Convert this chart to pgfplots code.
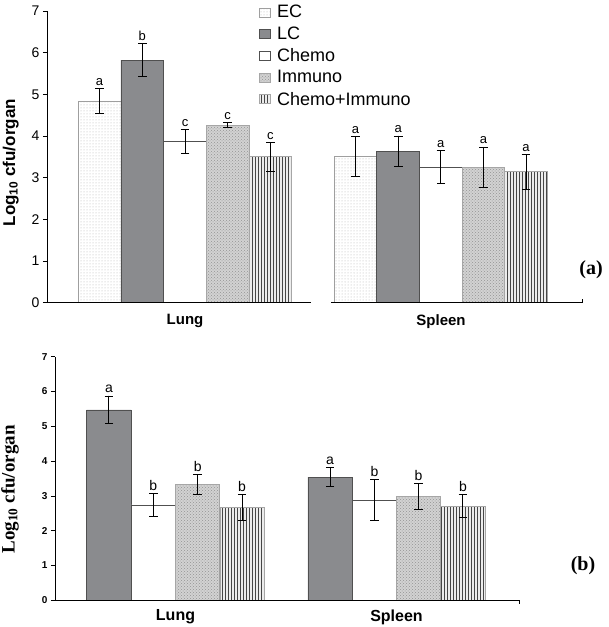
\documentclass[border=0pt]{standalone}
\usepackage{fontspec}
\setmainfont{Liberation Sans}
\newfontfamily\timesf{Liberation Serif}
\usepackage{pgfplots}
\pgfplotsset{compat=1.18}
\usetikzlibrary{patterns}
\definecolor{lcgray}{RGB}{138,139,142}
\definecolor{edgegray}{RGB}{80,80,80}
\pgfplotsset{
  ecstyle/.style={fill=white, draw=gray!75, line width=0.8pt, postaction={pattern=dots, pattern color=gray!60}},
  lcstyle/.style={fill=lcgray, draw=edgegray, line width=0.8pt},
  chstyle/.style={fill=white, draw=edgegray, line width=0.8pt},
  imstyle/.style={fill=gray!35, draw=gray!70, line width=0.8pt, postaction={pattern=crosshatch dots, pattern color=gray!85}},
  cistyle/.style={fill=gray!15, draw=gray!70, line width=0.8pt, postaction={pattern=vertical lines, pattern color=gray!55!black}},
  myerr/.style={error bars/.cd, y dir=both, y explicit,
     error bar style={black, line width=1pt},
     error mark options={black, line width=1pt, mark size=4.3pt, rotate=90}},
  mylab/.style={only marks, mark=*, mark size=0.01pt, mark options={draw=none, fill=none},
     nodes near coords, point meta=explicit symbolic, forget plot,
     nodes near coords style={anchor=south, inner sep=3pt, font=\fontsize{13}{15}\selectfont}},
}
\begin{document}
\begin{tikzpicture}
\useasboundingbox (0pt,0pt) rectangle (609pt,-627pt);
% ---------------- panel (a)
\begin{axis}[
  at={(47pt,-302.7pt)}, anchor=south west,
  scale only axis, width=533pt, height=291.7pt,
  xmin=47, xmax=580, ymin=0, ymax=7,
  axis lines=left, axis line style={-, black, line width=0.8pt},
  x axis line style={draw=none},
  ytick={0,1,...,7}, tick align=outside, major tick length=4pt,
  ytick style={black, line width=0.8pt},
  xtick={185,441}, xticklabels={Lung,Spleen}, xtick style={draw=none},
  x tick label style={font=\bfseries\fontsize{15}{18}\selectfont, yshift=-4pt},
  y tick label style={font=\fontsize{14}{16}\selectfont},
  /pgf/number format/assume math mode=true,
  ylabel={\textbf{Log\textsubscript{10} cfu/organ}},
  ylabel style={font=\fontsize{17}{20}\selectfont, at={(axis description cs:-0.068,0.48)}, anchor=center},
  clip=false,
  legend style={at={(axis description cs:0.397,1.025)}, anchor=north west, draw=none, fill=none,
     inner sep=0pt, font=\fontsize{18}{20}\selectfont, row sep=4.5pt,
     nodes={inner sep=1.5pt},
     /tikz/every odd column/.append style={column sep=5pt}},
  legend cell align=left,
  legend image code/.code={\draw[#1] (0pt,-4.5pt) rectangle (11pt,4.5pt);},
]
\addplot[ybar, bar width=42.7, bar shift=0pt, ecstyle, myerr] coordinates {(99.6,4.84) +- (0,0.29) (355.6,3.50) +- (0,0.48)};
\addlegendentry{EC}
\addplot[ybar, bar width=42.7, bar shift=0pt, lcstyle, myerr] coordinates {(142.3,5.82) +- (0,0.40) (398.2,3.64) +- (0,0.36)};
\addlegendentry{LC}
\addplot[ybar, bar width=42.7, bar shift=0pt, chstyle, myerr] coordinates {(185.0,3.87) +- (0,0.29) (440.8,3.25) +- (0,0.40)};
\addlegendentry{Chemo}
\addplot[ybar, bar width=42.7, bar shift=0pt, imstyle, myerr] coordinates {(227.7,4.26) +- (0,0.06) (483.4,3.25) +- (0,0.48)};
\addlegendentry{Immuno}
\addplot[ybar, bar width=42.7, bar shift=0pt, cistyle, myerr] coordinates {(270.4,3.50) +- (0,0.34) (526.0,3.14) +- (0,0.42)};
\addlegendentry{Chemo+Immuno}
\addplot[mylab] coordinates {
  (99.6,5.13) [a] (142.3,6.22) [b] (185.0,4.16) [c] (227.7,4.32) [c] (270.4,3.84) [c]
  (355.6,3.98) [a] (398.2,4.00) [a] (440.8,3.65) [a] (483.4,3.73) [a] (526.0,3.56) [a]};
\draw[black, line width=0.8pt] (axis cs:47,0) -- (axis cs:311,0);
\draw[black, line width=0.8pt] (axis cs:331,0) -- (axis cs:582,0) -- ++(0pt,4pt);
\end{axis}
\node[font=\timesf\bfseries\fontsize{20}{24}\selectfont] at (591pt,-270pt) {(a)};
% ---------------- panel (b)
\begin{axis}[
  at={(55pt,-600.3pt)}, anchor=south west,
  scale only axis, width=464pt, height=243.6pt,
  xmin=55, xmax=519, ymin=0, ymax=7,
  axis lines=left, axis line style={-, black, line width=0.8pt},
  x axis line style={draw=none},
  ytick={0,1,...,7}, tick align=outside, major tick length=4pt,
  ytick style={black, line width=0.8pt},
  xtick={175.5,396.5}, xticklabels={Lung,Spleen}, xtick style={draw=none},
  x tick label style={font=\bfseries\fontsize{16}{19}\selectfont, yshift=-2pt},
  y tick label style={font=\bfseries\fontsize{10}{12}\selectfont},
  /pgf/number format/assume math mode=true,
  ylabel={\timesf\bfseries Log\textsubscript{10} cfu/organ},
  ylabel style={font=\fontsize{19}{22}\selectfont, at={(axis description cs:-0.097,0.455)}, anchor=center},
  clip=false,
]
\addplot[ybar, bar width=44.3, bar shift=0pt, lcstyle, myerr] coordinates {(108.9,5.47) +- (0,0.40) (330.1,3.54) +- (0,0.27)};
\addplot[ybar, bar width=44.3, bar shift=0pt, chstyle, myerr] coordinates {(153.3,2.74) +- (0,0.33) (374.4,2.88) +- (0,0.58)};
\addplot[ybar, bar width=44.3, bar shift=0pt, imstyle, myerr] coordinates {(197.7,3.32) +- (0,0.29) (418.6,2.99) +- (0,0.37)};
\addplot[ybar, bar width=44.3, bar shift=0pt, cistyle, myerr] coordinates {(242.1,2.66) +- (0,0.38) (462.9,2.71) +- (0,0.33)};
\addplot[mylab, nodes near coords style={font=\fontsize{14}{16}\selectfont}] coordinates {
  (108.9,5.87) [a] (153.3,3.07) [b] (197.7,3.61) [b] (242.1,3.04) [b]
  (330.1,3.81) [a] (374.4,3.46) [b] (418.6,3.36) [b] (462.9,3.04) [b]};
\draw[black, line width=0.8pt] (axis cs:55,0) -- (axis cs:519,0) -- ++(0pt,-4pt);
\end{axis}
\node[font=\timesf\bfseries\fontsize{20}{24}\selectfont] at (583pt,-566pt) {(b)};
\end{tikzpicture}
\end{document}
